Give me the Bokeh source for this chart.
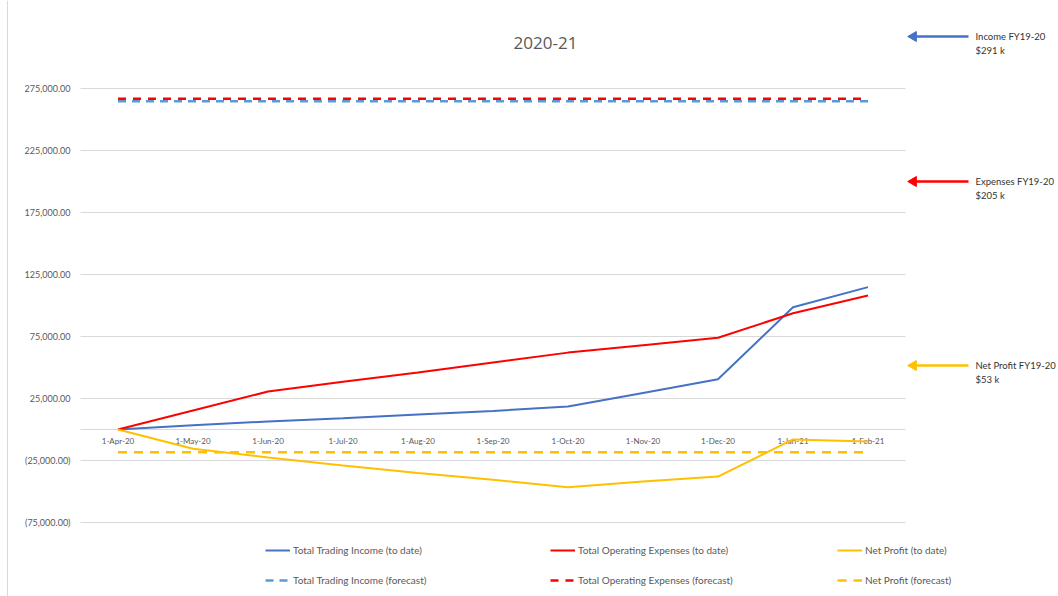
import math
from bokeh.plotting import figure
from bokeh.models import Range1d, Legend, LegendItem, ColumnDataSource
from bokeh.core.properties import value
from bokeh.embed import file_html
from bokeh.resources import INLINE

# ---------------- data ----------------
months = ["1-Apr-20", "1-May-20", "1-Jun-20", "1-Jul-20", "1-Aug-20", "1-Sep-20",
          "1-Oct-20", "1-Nov-20", "1-Dec-20", "1-Jan-21", "1-Feb-21"]
income_to_date = [0, 3500, 6500, 9000, 12000, 15000, 18500, 29500, 40500, 98600, 114800]
expenses_to_date = [0, 15300, 30600, 38500, 46000, 54000, 62000, 68000, 74000, 93800, 108000]
profit_to_date = [0, -15500, -22500, -29000, -35000, -40500, -46500, -42000, -38000, -8000, -9700]
income_forecast = [264800, 264800, 264800, 264800, 264800, 264800, 264800, 264800, 264800, 264800, 264800]
expenses_forecast = [266700, 266700, 266700, 266700, 266700, 266700, 266700, 266700, 266700, 266700, 266700]
profit_forecast = [-18300, -18300, -18300, -18300, -18300, -18300, -18300, -18300, -18300, -18300, -18300]
y_ticks = [-75000, -25000, 25000, 75000, 125000, 175000, 225000, 275000]
title_text = "2020-21"
note_titles = ["Income FY19-20", "Expenses FY19-20", "Net Profit FY19-20"]
note_values = ["$291 k", "$205 k", "$53 k"]
legend_labels_to_date = ["Total Trading Income (to date)", "Total Operating Expenses (to date)",
                         "Net Profit (to date)"]
legend_labels_forecast = ["Total Trading Income (forecast)", "Total Operating Expenses (forecast)",
                          "Net Profit (forecast)"]

# ---------------- styling / layout ----------------
BLUE = "#4472C4"
LBLUE = "#5B9BD5"
RED = "#FF0000"
YEL = "#FFC000"
GRAY = "#595959"
GRID = "#D9D9D9"
FONT = "Lato"

W, H = 1058, 596
X0, DX = 117.5, 75.0                 # pixel x of first category, pixels per category
Y0, PX_PER = 429.0, 434.0 / 350000.0  # pixel y of zero, pixels per unit

idx = list(range(len(months)))
n = len(months)

p = figure(width=W, height=H,
           x_range=Range1d(-X0 / DX, (W - X0) / DX),
           y_range=Range1d(-(H - Y0) / PX_PER, Y0 / PX_PER),
           output_backend="svg", toolbar_location=None,
           x_axis_location=None, y_axis_location=None,
           min_border=0, min_border_left=0, min_border_right=0,
           min_border_top=0, min_border_bottom=0)
p.extra_x_ranges = {"px": Range1d(0, W)}
p.extra_y_ranges = {"px": Range1d(H, 0)}
p.grid.visible = False
p.outline_line_color = None
p.background_fill_color = "white"
p.border_fill_color = "white"

# chart-area border on the left
p.segment(x0=[7], y0=[0], x1=[7], y1=[H], x_range_name="px", y_range_name="px",
          line_color=GRID, line_width=1)

# gridlines (plus the zero / category axis line)
grid_vals = y_ticks + [0]
p.segment(x0=[-0.5] * len(grid_vals), x1=[n - 0.5] * len(grid_vals),
          y0=grid_vals, y1=grid_vals, line_color=GRID, line_width=1)

# y tick labels
def fmt(v):
    s = f"{abs(v):,.2f}"
    return f"({s})" if v < 0 else s

ysrc = ColumnDataSource(dict(x=[-0.5] * len(y_ticks), y=y_ticks, t=[fmt(v) for v in y_ticks]))
p.text(x="x", y="y", text="t", source=ysrc, x_offset=-10, text_align="right",
       text_baseline="middle", text_font=value(FONT), text_font_size="9px", text_color=GRAY)

# category labels along the zero line
xsrc = ColumnDataSource(dict(x=idx, y=[0] * n, t=months))
p.text(x="x", y="y", text="t", source=xsrc, y_offset=11, text_align="center",
       text_baseline="middle", text_font=value(FONT), text_font_size="8px", text_color=GRAY)

# series
r_inc = p.line(idx, income_to_date, line_color=BLUE, line_width=2)
r_exp = p.line(idx, expenses_to_date, line_color=RED, line_width=2)
r_pro = p.line(idx, profit_to_date, line_color=YEL, line_width=2)
r_incf = p.line(idx, income_forecast, line_color=LBLUE, line_width=2.5, line_dash="8 6")
r_expf = p.line(idx, expenses_forecast, line_color=RED, line_width=2.5, line_dash="8 7")
r_prof = p.line(idx, profit_forecast, line_color=YEL, line_width=2.5, line_dash="9 7")

# legends (three columns, two rows)
cols = [(265, r_inc, r_incf), (550, r_exp, r_expf), (837, r_pro, r_prof)]
for i, (xpos, r1, r2) in enumerate(cols):
    lg = Legend(items=[LegendItem(label=legend_labels_to_date[i], renderers=[r1]),
                       LegendItem(label=legend_labels_forecast[i], renderers=[r2])],
                location=(xpos, 6), orientation="vertical", padding=0, margin=0,
                spacing=10, glyph_width=25, glyph_height=20, label_height=20,
                label_standoff=3, background_fill_alpha=0, border_line_alpha=0,
                label_text_font=FONT, label_text_font_size="10px", label_text_color=GRAY)
    p.add_layout(lg)

# title
p.text(x=[545], y=[42], text=[title_text], x_range_name="px", y_range_name="px",
       text_align="center", text_baseline="middle", text_font=value("Open Sans"),
       text_font_size="17px", text_color=GRAY)

# side arrows and notes
note_y = [36, 181, 365]
note_cols = [BLUE, RED, YEL]
p.segment(x0=[916] * 3, x1=[968] * 3, y0=note_y, y1=note_y, x_range_name="px",
          y_range_name="px", line_color=note_cols, line_width=2.5)
p.scatter(x=[913] * 3, y=note_y, marker="triangle", angle=math.pi / 2, size=10,
          x_range_name="px", y_range_name="px", fill_color=note_cols, line_color=note_cols)
p.text(x=[975] * 3, y=note_y, text=note_titles, x_range_name="px", y_range_name="px",
       text_baseline="middle", text_font=value(FONT), text_font_size="9.5px", text_color="#333333")
p.text(x=[975] * 3, y=[v + 14 for v in note_y], text=note_values, x_range_name="px",
       y_range_name="px", text_baseline="middle", text_font=value(FONT),
       text_font_size="9.5px", text_color="#333333")

open("out.html", "w").write(file_html(p, INLINE))
